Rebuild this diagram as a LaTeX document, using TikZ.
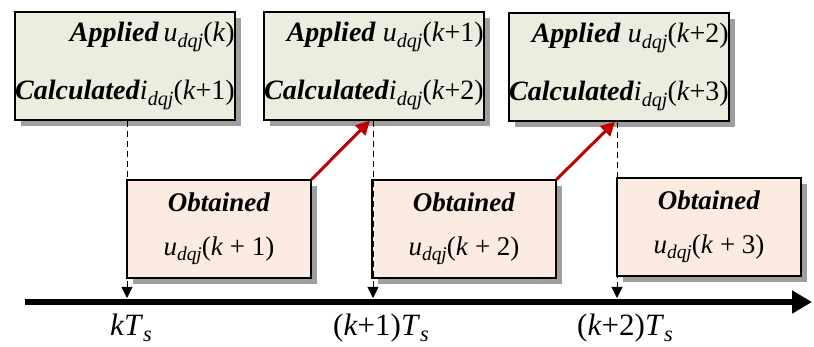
\documentclass[tikz,border=0pt]{standalone}
\usepackage{fontspec}
\setmainfont{LiberationSerif}[Extension=.ttf, UprightFont=*-Regular, BoldFont=*-Bold, ItalicFont=*-Italic, BoldItalicFont=*-BoldItalic]
\usetikzlibrary{arrows.meta,shadows}
\definecolor{topfill}{HTML}{EBEEDF}
\definecolor{botfill}{HTML}{FCEBE0}
\definecolor{arrred}{HTML}{C00000}
\newcommand{\bi}[1]{\textbf{\textit{#1}}}
\newcommand{\sv}[2]{\textit{#1}\raisebox{-0.4ex}{\scalebox{0.72}{\textit{dqj}}}(#2)}
\begin{document}
\begin{tikzpicture}[x=1pt, y=-1pt,
    topbox/.style={rectangle, draw, line width=1.2pt, fill=topfill, minimum width=220pt, minimum height=108pt, inner sep=0pt, align=right, font=\fontsize{28}{58}\selectfont,
        drop shadow={shadow xshift=6pt, shadow yshift=-6pt, fill=gray!75, opacity=1}},
    botbox/.style={rectangle, draw, line width=1.2pt, fill=botfill, minimum width=184pt, minimum height=98pt, inner sep=0pt, align=center, font=\fontsize{27}{44}\selectfont,
        drop shadow={shadow xshift=6pt, shadow yshift=-6pt, fill=gray!75, opacity=1}},
    tick/.style={draw, dash pattern=on 6pt off 4pt, line width=0.9pt, -{Triangle[length=11pt,width=11pt]}},
    step arrow/.style={draw, arrred, line width=3pt, -{Triangle[length=14pt,width=14pt]}},
    timeaxis/.style={draw, line width=6pt, -{Triangle[length=20pt,width=22pt]}},
    tlabel/.style={font=\fontsize{31}{34}\selectfont}
]
    \useasboundingbox (0,0) rectangle (814,347);

    % time axis
    \coordinate (start) at (25,302);
    \coordinate (end) at (812,302);
    \coordinate (t0) at (127,298);
    \coordinate (t1) at (373,298);
    \coordinate (t2) at (617,298);
    \draw [timeaxis] (start) -- (end);

    % applied / calculated boxes
    \node [topbox] (calc0) at (125,66) {\bi{Applied}\,\sv{u}{\textit{k}}\\\bi{Calculated}\sv{i}{\textit{k}+1}};
    \node [topbox] (calc1) at (374,66) {\bi{Applied} \sv{u}{\textit{k}+1}\\\bi{Calculated}\sv{i}{\textit{k}+2}};
    \node [topbox] (calc2) at (619,67) {\bi{Applied} \sv{u}{\textit{k}+2}\\\bi{Calculated}\sv{i}{\textit{k}+3}};

    % obtained boxes
    \node [botbox] (obt0) at (219,229) {\bi{Obtained}\\\sv{u}{\textit{k} + 1}};
    \node [botbox] (obt1) at (464,229) {\bi{Obtained}\\\sv{u}{\textit{k} + 2}};
    \node [botbox] (obt2) at (709,227) {\bi{Obtained}\\\sv{u}{\textit{k} + 3}};

    % sampling instants
    \draw [tick] (calc0.south -| t0) -- (t0);
    \draw [tick] (calc1.south -| t1) -- (t1);
    \draw [tick] (calc2.south -| t2) -- (t2);

    \node [tlabel] (l0) at (131,328) {\textit{kT}\raisebox{-0.4ex}{\scalebox{0.72}{\textit{s}}}};
    \node [tlabel] (l1) at (381,328) {(\textit{k}+1)\textit{T}\raisebox{-0.4ex}{\scalebox{0.72}{\textit{s}}}};
    \node [tlabel] (l2) at (625,328) {(\textit{k}+2)\textit{T}\raisebox{-0.4ex}{\scalebox{0.72}{\textit{s}}}};

    % prediction steps
    \draw [step arrow] (obt0.north east) -- ([xshift=-4pt]calc1.south);
    \draw [step arrow] (obt1.north east) -- ([xshift=-4pt]calc2.south);
\end{tikzpicture}
\end{document}
